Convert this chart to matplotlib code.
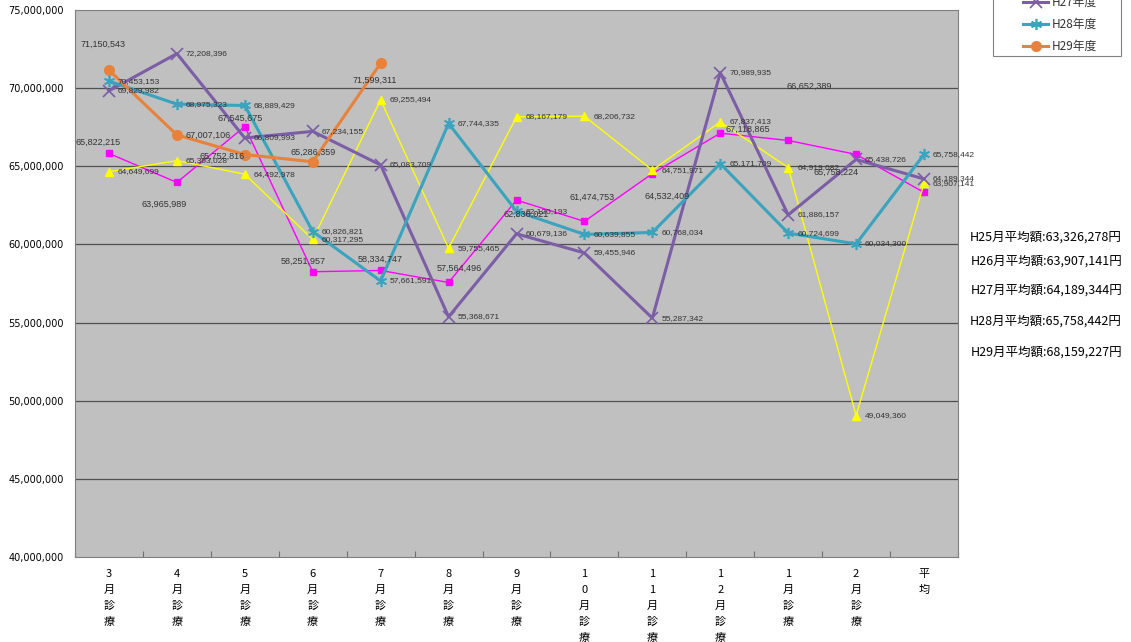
import matplotlib
matplotlib.use("Agg")
import matplotlib.pyplot as plt
from matplotlib.patches import Rectangle
import numpy as np

plt.rcParams['font.family'] = ['Noto Sans CJK JP', 'DejaVu Sans']

# categories (stacked vertically under the axis)
categories = ['3月診療', '4月診療', '5月診療', '6月診療', '7月診療', '8月診療', '9月診療',
              '10月診療', '11月診療', '12月診療', '1月診療', '2月診療', '平均']

# monthly totals
h25 = [65822215, 63965989, 67545675, 58251957, 58334747, 57564496, 62836021,
       61474753, 64532409, 67118865, 66652389, 65758224, 63326278]
h26 = [64649699, 65363028, 64492978, 60317295, 69255494, 59755465, 68167179,
       68206732, 64751971, 67837413, 64919082, 49049360, 63907141]
h27 = [69829982, 72208396, 66809993, 67234155, 65083709, 55368671, 60679136,
       59455946, 55287342, 70989935, 61886157, 65438726, 64189344]
h28 = [70453153, 68975323, 68889429, 60826821, 57661591, 67744335, 62120193,
       60639855, 60768034, 65171709, 60724699, 60034300, 65758442]
h29 = [71150543, 67007106, 65752816, 65286359, 71599311]

avg_texts = ['H25月平均額:63,326,278円', 'H26月平均額:63,907,141円', 'H27月平均額:64,189,344円',
             'H28月平均額:65,758,442円', 'H29月平均額:68,159,227円']

# label offsets (pixels) for the series whose labels are not simply to the right
h25_off = [(-11, 11), (-13, -22), (-5, 8), (-10, 10), (0, 11), (11, 14), (10, -14),
           (8, 24), (15, -23), (28, 4), (21, 54), (-20, -18), None]
h29_off = [(-6, 26), (31, 0), (-23, -2), (0, 9), (-6, -17)]

fig = plt.figure(figsize=(11.31, 6.42), dpi=100)
ax = fig.add_axes([75 / 1131, 85 / 642, 883 / 1131, 547 / 642])
ax.set_facecolor('#c0c0c0')

x = np.arange(len(categories))
ax.set_xlim(-0.5, len(categories) - 0.5)
ax.set_ylim(40000000, 75000000)

for v in range(45000000, 75000000, 5000000):
    ax.axhline(v, color='#505050', lw=0.9, zorder=1)

ax.plot(x, h25, color='#ff00ff', lw=1.0, marker='s', ms=5, zorder=3, label='H25年度')
ax.plot(x, h26, color='#ffff00', lw=1.0, marker='^', ms=5.5, zorder=3, label='H26年度')
ax.plot(x, h27, color='#7b5ea6', lw=2.2, marker='x', ms=8, mew=1.2, zorder=4, label='H27年度')
ax.plot(x, h28, color='#3aa3bd', lw=2.2, marker=(6, 2, 0), ms=8, mew=1.2, zorder=4, label='H28年度')
ax.plot(x[:len(h29)], h29, color='#e8823a', lw=2.2, marker='o', ms=7, zorder=5, label='H29年度')

lab_kw = dict(textcoords='offset pixels', fontsize=6, color='#333333',
              family=['Liberation Sans'], zorder=6, annotation_clip=False)

for series in (h26, h27, h28):
    for i, v in enumerate(series):
        ax.annotate(f'{v:,}', (x[i], v), xytext=(9, 0), ha='left', va='center', **lab_kw)

for i, v in enumerate(h25):
    if h25_off[i] is None:
        continue
    ax.annotate(f'{v:,}', (x[i], v), xytext=h25_off[i], ha='center', va='center',
                **dict(lab_kw, fontsize=6.5))

for i, v in enumerate(h29):
    ax.annotate(f'{v:,}', (x[i], v), xytext=h29_off[i], ha='center', va='center',
                **dict(lab_kw, fontsize=6.5))

# y axis
ax.set_yticks(range(40000000, 75000001, 5000000))
ax.set_yticklabels([f'{v:,}' for v in range(40000000, 75000001, 5000000)],
                   fontsize=7, family=['DejaVu Sans'])
ax.tick_params(axis='y', length=0, pad=8)

# x axis: ticks on category boundaries, labels stacked
ax.set_xticks(np.arange(-0.5, len(categories), 1.0))
ax.set_xticklabels([])
ax.tick_params(axis='x', direction='in', length=4, color='#707070')
for i, c in enumerate(categories):
    ax.text(x[i], 39250000, '\n'.join(c), ha='center', va='top', fontsize=8,
            linespacing=1.75, transform=ax.transData)

for s in ax.spines.values():
    s.set_color('#808080')

# right side averages
for j, t in enumerate(avg_texts):
    fy = [237, 261, 290, 321, 352][j]
    fig.text(1122 / 1131, 1 - fy / 642, t, ha='right', va='center', fontsize=9)

# legend box (top part runs off the canvas)
fig.patches.append(Rectangle((993 / 1131, 1 - 56 / 642), 128 / 1131, 120 / 642,
                             transform=fig.transFigure, facecolor='white',
                             edgecolor='#808080', lw=0.8, zorder=0))
leg = fig.legend(loc='lower left', bbox_to_anchor=(1015 / 1131, 1 - 61 / 642),
                 fontsize=8.5, frameon=False, handlelength=2.1, handletextpad=0.3,
                 labelspacing=0.75, borderpad=0.2, labelcolor='#333333')

fig.savefig('out.png', dpi=100)
